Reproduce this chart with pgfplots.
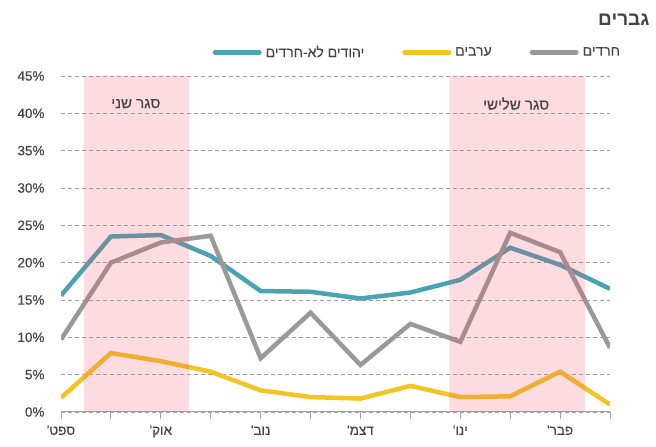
\documentclass[border=0pt]{standalone}
\usepackage{pgfplots}
\pgfplotsset{compat=1.18}
\usepackage{fontspec}
\setmainfont{Liberation Sans}[FakeBold=0.35]
\newfontfamily\hebfont[Script=Hebrew,FakeBold=0.35]{Liberation Sans}
\newfontfamily\hebbold[Script=Hebrew]{Liberation Sans Bold}
\TeXXeTstate=1
\definecolor{teal1}{RGB}{74,163,176}
\definecolor{yel}{RGB}{242,197,34}
\definecolor{gry}{RGB}{153,153,153}
\definecolor{band}{RGB}{240,80,100}
\definecolor{txt}{RGB}{68,68,68}
\newcommand{\heb}[1]{{\hebfont\beginR #1\endR}}
\begin{document}
\begin{tikzpicture}[x=1bp,y=1bp]
\useasboundingbox (0,0) rectangle (656,447);
\begin{axis}[
  at={(61bp,35bp)}, anchor=south west,
  scale only axis, width=549bp, height=336bp,
  xmin=0, xmax=11, ymin=0, ymax=45,
  axis x line*=bottom, axis y line*=left,
  y axis line style={draw=none},
  x axis line style={draw=gray!70, line width=1bp},
  xtick={0,...,11},
  xticklabels={\heb{ספט'},,\heb{אוק'},,\heb{נוב'},,\heb{דצמ'},,\heb{ינו'},,\heb{פבר'},},
  x tick style={draw=gray!70, line width=1bp},
  major tick length=7bp, tick align=outside,
  ytick={0,5,...,45},
  y tick style={draw=none},
  yticklabel={\pgfmathprintnumber{\tick}\%},
  /pgf/number format/assume math mode=true,
  ticklabel style={font=\fontsize{13.5bp}{16bp}\selectfont, text=txt},
  x tick label style={yshift=-3bp},
  y tick label style={xshift=-6bp},
  ymajorgrids,
  grid style={dash pattern=on 4bp off 3bp, draw=gray!75, line width=0.9bp},
  legend columns=3,
  legend style={at={(0.649,1.071)}, anchor=center, draw=none, fill=none,
    font=\fontsize{14bp}{16bp}\selectfont, text=txt,
    /tikz/every even column/.append style={column sep=36bp},
    /tikz/every odd column/.append style={column sep=2bp}},
  legend image code/.code={\draw[line width=5bp, line cap=round] (0bp,0bp) -- (44bp,0bp);},
]
\addplot[teal1, line width=4.5bp] coordinates {
(0,15.6) (1,23.5) (2,23.7) (3,20.9) (4,16.2) (5,16.1) (6,15.2) (7,16.0) (8,17.7) (9,22.0) (10,19.7) (11,16.5)};
\addlegendentry{\heb{יהודים לא-חרדים}}
\addplot[yel, line width=4.5bp] coordinates {
(0,1.9) (1,7.9) (2,6.8) (3,5.4) (4,2.9) (5,2.0) (6,1.8) (7,3.5) (8,2.0) (9,2.1) (10,5.4) (11,1.0)};
\addlegendentry{\heb{ערבים}}
\addplot[gry, line width=4.5bp] coordinates {
(0,9.7) (1,20.0) (2,22.7) (3,23.6) (4,7.2) (5,13.3) (6,6.3) (7,11.8) (8,9.4) (9,24.0) (10,21.4) (11,8.6)};
\addlegendentry{\heb{חרדים}}
\addplot[draw=none, fill=band, fill opacity=0.2, forget plot] coordinates {(0.46,0) (0.46,45) (2.56,45) (2.56,0)} \closedcycle;
\addplot[draw=none, fill=band, fill opacity=0.2, forget plot] coordinates {(7.78,0) (7.78,45) (10.5,45) (10.5,0)} \closedcycle;
\node[font=\fontsize{15bp}{18bp}\selectfont, text=txt] at (axis cs:1.5,41.3) {\heb{סגר שני}};
\node[font=\fontsize{15bp}{18bp}\selectfont, text=txt] at (axis cs:9.12,41.3) {\heb{סגר שלישי}};
\end{axis}
\node[anchor=east, font=\fontsize{19bp}{22bp}\selectfont, text=txt] at (653,427) {{\hebbold\beginR גברים\endR}};
\end{tikzpicture}
\end{document}
